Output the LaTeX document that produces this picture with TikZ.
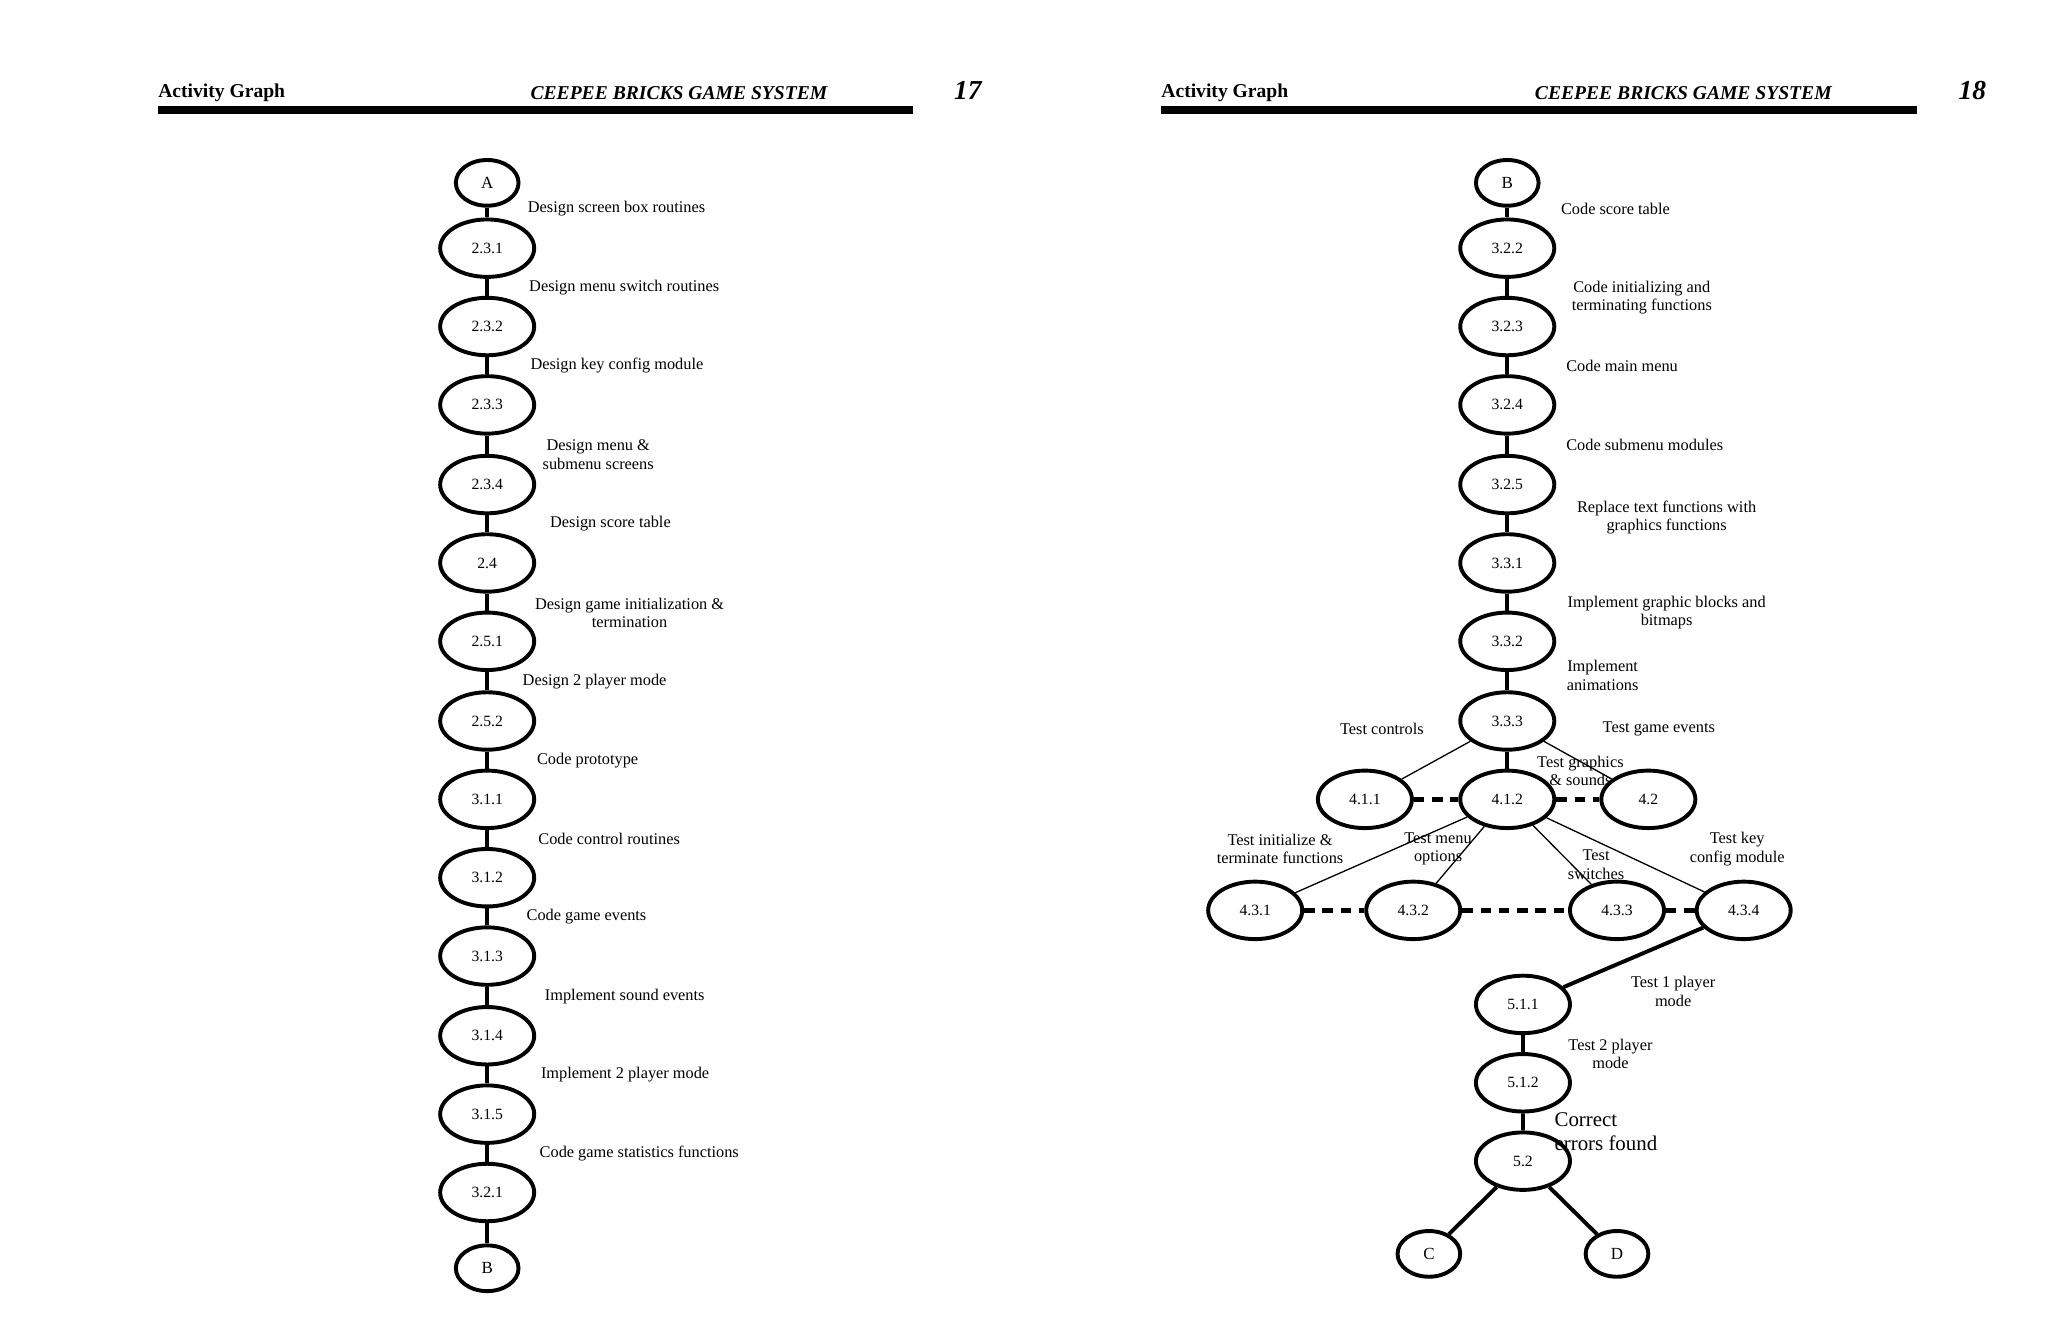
\documentclass[tikz,border=0pt]{standalone}
\usepackage{fontspec}
\setmainfont{Liberation Serif}
\begin{document}
\begin{tikzpicture}[x=1pt,y=-1pt,
 big/.style={ellipse,draw,line width=3pt,minimum width=72pt,minimum height=44pt,inner sep=0pt,font=\fontsize{12}{12}\selectfont},
 sm/.style={ellipse,draw,line width=3pt,minimum width=48pt,minimum height=35pt,inner sep=0pt,font=\fontsize{13}{13}\selectfont},
 lab/.style={font=\fontsize{12.5}{14}\selectfont,align=center,inner sep=0pt},
 thk/.style={line width=3pt},
 thn/.style={line width=1pt},
 dsh/.style={line width=4pt,dash pattern=on 8pt off 6pt},
 hd/.style={font=\fontsize{15}{15}\selectfont\bfseries,anchor=west,inner sep=0pt},
 hdi/.style={font=\fontsize{15}{15}\selectfont\bfseries\itshape,anchor=west,inner sep=0pt},
 pg/.style={font=\fontsize{21}{21}\selectfont\bfseries\itshape,inner sep=0pt}]
\useasboundingbox (0,0) rectangle (1568,1025);
\usetikzlibrary{shapes.geometric}
% headers
\node[hd] (h1) at (121,71) {Activity Graph};
\node[hdi] (h2) at (406,71) {CEEPEE BRICKS GAME SYSTEM};
\node[pg] (p1) at (741,69) {17};
\fill (121,81) rectangle (699,87);
\node[hd] (h3) at (889,71) {Activity Graph};
\node[hdi] (h4) at (1175,71) {CEEPEE BRICKS GAME SYSTEM};
\node[pg] (p2) at (1510,69) {18};
\fill (889,81) rectangle (1468,87);
% left column
\node[sm] (A) at (373,140) {A};
\foreach \n/\y in {231/190,232/250,233/310,234/371,24/431,251/491,252/552,311/612,312/672,313/732,314/793,315/853,321/913}{}
\node[big] (a1) at (373,190) {2.3.1};
\node[big] (a2) at (373,250) {2.3.2};
\node[big] (a3) at (373,310) {2.3.3};
\node[big] (a4) at (373,371) {2.3.4};
\node[big] (a5) at (373,431) {2.4};
\node[big] (a6) at (373,491) {2.5.1};
\node[big] (a7) at (373,552) {2.5.2};
\node[big] (a8) at (373,612) {3.1.1};
\node[big] (a9) at (373,672) {3.1.2};
\node[big] (a10) at (373,732) {3.1.3};
\node[big] (a11) at (373,793) {3.1.4};
\node[big] (a12) at (373,853) {3.1.5};
\node[big] (a13) at (373,913) {3.2.1};
\node[sm] (B1) at (373,971) {B};
\draw[thk] (A)--(a1)--(a2)--(a3)--(a4)--(a5)--(a6)--(a7)--(a8)--(a9)--(a10)--(a11)--(a12)--(a13)--(B1);
\node[lab,anchor=west] (l1) at (404,160) {Design screen box routines};
\node[lab,anchor=west] (l2) at (405,220) {Design menu switch routines};
\node[lab,anchor=west] (l3) at (406,280) {Design key config module};
\node[lab] (l4) at (458,348) {Design menu \&\\submenu screens};
\node[lab,anchor=west] (l5) at (421,401) {Design score table};
\node[lab] (l6) at (482,469) {Design game initialization \&\\termination};
\node[lab,anchor=west] (l7) at (400,522) {Design 2 player mode};
\node[lab,anchor=west] (l8) at (411,582) {Code prototype};
\node[lab,anchor=west] (l9) at (412,642) {Code control routines};
\node[lab,anchor=west] (l10) at (403,702) {Code game events};
\node[lab,anchor=west] (l11) at (417,763) {Implement sound events};
\node[lab,anchor=west] (l12) at (414,823) {Implement 2 player mode};
\node[lab,anchor=west] (l13) at (413,883) {Code game statistics functions};
% right column
\node[sm] (B2) at (1154,140) {B};
\node[big] (b1) at (1154,190) {3.2.2};
\node[big] (b2) at (1154,250) {3.2.3};
\node[big] (b3) at (1154,310) {3.2.4};
\node[big] (b4) at (1154,371) {3.2.5};
\node[big] (b5) at (1154,431) {3.3.1};
\node[big] (b6) at (1154,491) {3.3.2};
\node[big] (b7) at (1154,552) {3.3.3};
\draw[thk] (B2)--(b1)--(b2)--(b3)--(b4)--(b5)--(b6)--(b7);
\node[big] (c1) at (1045,612) {4.1.1};
\node[big] (c2) at (1154,612) {4.1.2};
\node[big] (c3) at (1262,612) {4.2};
\node[big] (d1) at (961,697) {4.3.1};
\node[big] (d2) at (1082,697) {4.3.2};
\node[big] (d3) at (1238,697) {4.3.3};
\node[big] (d4) at (1335,697) {4.3.4};
\node[big] (e1) at (1166,769) {5.1.1};
\node[big] (e2) at (1166,829) {5.1.2};
\node[big] (e3) at (1166,889) {5.2};
\node[sm] (C) at (1094,960) {C};
\node[sm] (D) at (1238,960) {D};
\draw[thn] (b7)--(c1); \draw[thk] (b7)--(c2); \draw[thn] (b7)--(c3);
\draw[dsh] (c1)--(c2); \draw[dsh] (c2)--(c3);
\draw[thn] (c2)--(d1); \draw[thn] (c2)--(d2); \draw[thn] (c2)--(d3); \draw[thn] (c2)--(d4);
\draw[dsh] (d1)--(d2); \draw[dsh] (d2)--(d3); \draw[dsh] (d3)--(d4);
\draw[thk] (d4)--(e1)--(e2)--(e3);
\draw[thk] (e3)--(C); \draw[thk] (e3)--(D);
\node[lab,anchor=west] (r1) at (1195,160) {Code score table};
\node[lab] (r2) at (1257,228) {Code initializing and\\terminating functions};
\node[lab,anchor=west] (r3) at (1199,280) {Code main menu};
\node[lab,anchor=west] (r4) at (1199,341) {Code submenu modules};
\node[lab] (r5) at (1276,396) {Replace text functions with\\graphics functions};
\node[lab] (r6) at (1276,469) {Implement graphic blocks and\\bitmaps};
\node[lab] (r7) at (1227,517) {Implement\\animations};
\node[lab] (r8) at (1058,558) {Test controls};
\node[lab] (r9) at (1270,558) {Test game events};
\node[lab] (r10) at (1210,590) {Test graphics\\\& sounds};
\node[lab] (r11) at (980,650) {Test initialize \&\\terminate functions};
\node[lab] (r12) at (1101,650) {Test menu\\options};
\node[lab] (r13) at (1222,662) {Test\\switches};
\node[lab] (r14) at (1330,650) {Test key\\config module};
\node[lab] (r15) at (1281,759) {Test 1 player\\mode};
\node[lab] (r16) at (1233,807) {Test 2 player\\mode};
\node[lab,font=\fontsize{16}{18}\selectfont,anchor=north west,align=left] (r17) at (1190,852) {Correct\\errors found};
\end{tikzpicture}
\end{document}
